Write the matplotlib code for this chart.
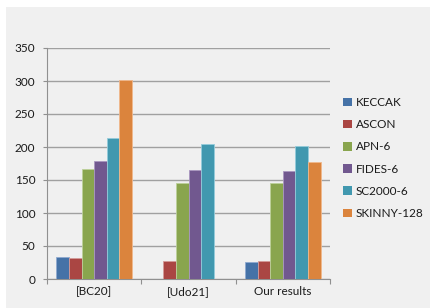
import numpy as np
import matplotlib.pyplot as plt
from matplotlib.patches import Rectangle

plt.rcParams['font.family'] = ['Lato', 'DejaVu Sans']

groups = ['[BC20]', '[Udo21]', 'Our results']
series = ['KECCAK', 'ASCON', 'APN-6', 'FIDES-6', 'SC2000-6', 'SKINNY-128']
keccak = [33, np.nan, 26]
ascon = [32, 27, 27]
apn6 = [167, 145, 145]
fides6 = [179, 165, 164]
sc2000 = [214, 205, 202]
skinny = [302, np.nan, 177]
values = [keccak, ascon, apn6, fides6, sc2000, skinny]
colors = ['#4572A7', '#AA4643', '#89A54E', '#71588F', '#4198AF', '#DB843D']
edges = ['#8FAAD0', '#D49A98', '#BCD09A', '#A996C0', '#94CCDB', '#F0B88C']

W, H = 430, 308
fig = plt.figure(figsize=(W / 100, H / 100), dpi=100)
fig.patch.set_facecolor('white')
# grey chart background with a thin white margin top/left
fig.patches.append(Rectangle((6 / W, 0), 1, 1 - 7 / H, transform=fig.transFigure,
                             facecolor='#F0F0F0', edgecolor='none', zorder=-10))

ax = fig.add_axes([47 / W, (H - 279) / H, (330 - 47) / W, (279 - 48) / H])
ax.set_facecolor('none')

x = np.arange(len(groups))
bw = 0.8 / len(series)
for i, (name, vals) in enumerate(zip(series, values)):
    off = (i - (len(series) - 1) / 2) * bw
    ax.bar(x + off, vals, bw, color=colors[i], edgecolor=edges[i],
           linewidth=0.6, label=name, zorder=3)

ax.set_xlim(-0.5, 2.5)
ax.set_ylim(0, 350)
ax.set_yticks(range(0, 351, 50))
ax.yaxis.grid(True, color='#A0A0A0', linewidth=1.0, zorder=0)
ax.set_axisbelow(True)

# boundaries get the tick marks, centres get the labels
ax.set_xticks([-0.5, 0.5, 1.5, 2.5])
ax.set_xticklabels([])
ax.set_xticks(x, minor=True)
ax.set_xticklabels(groups, minor=True, fontsize=8.5, color='#1A1A1A')
ax.tick_params(axis='x', which='major', length=3.5, color='#909090', width=0.8)
ax.tick_params(axis='x', which='minor', length=0, pad=5)
ax.tick_params(axis='y', length=3, color='#909090', width=0.8, pad=5.5,
               labelsize=8.5, labelcolor='#1A1A1A')

for s in ['top', 'right']:
    ax.spines[s].set_visible(False)
for s in ['left', 'bottom']:
    ax.spines[s].set_color('#909090')
    ax.spines[s].set_linewidth(0.8)

leg = fig.legend(loc='upper left', bbox_to_anchor=(343 / W, 1 - 97 / H),
                 frameon=False, fontsize=8.5, handlelength=0.75, handleheight=0.75,
                 handletextpad=0.35, labelspacing=0.95, borderpad=0, borderaxespad=0)
for h in leg.legend_handles:
    h.set_edgecolor('none')
for t in leg.get_texts():
    t.set_color('#1A1A1A')

fig.savefig('out.png', dpi=100, facecolor=fig.get_facecolor())
